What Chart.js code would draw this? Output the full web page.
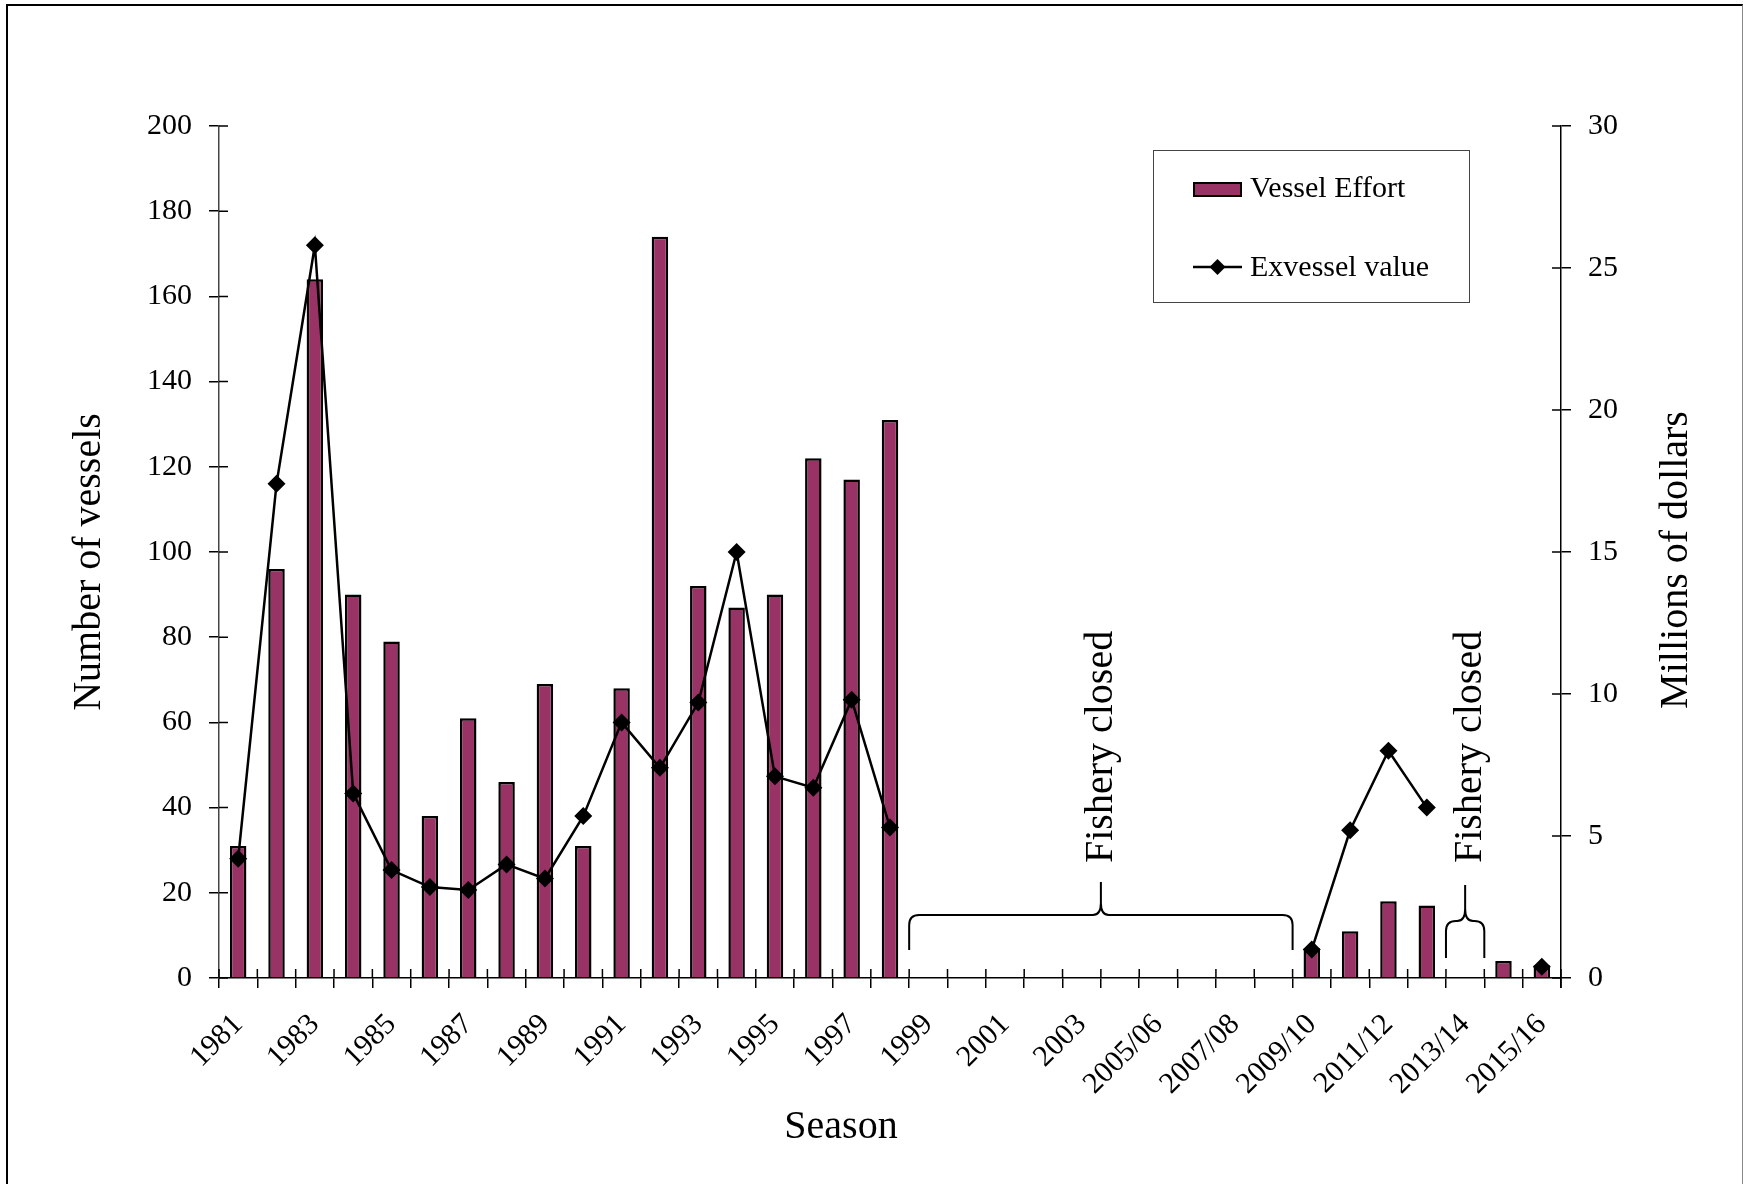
<!DOCTYPE html>
<html><head><meta charset="utf-8">
<script src="https://cdn.jsdelivr.net/npm/chart.js@4.4.0/dist/chart.umd.min.js"></script>
<style>
html,body{margin:0;padding:0;background:#fff;}
#wrap{position:relative;width:1743px;height:1184px;overflow:hidden;background:#fff;}
#frame{position:absolute;left:6px;top:4px;width:1737px;height:1200px;border-left:2px solid #000;border-top:2px solid #000;border-right:1px solid #888;box-sizing:border-box;}
canvas{position:absolute;left:0;top:0;}
</style></head><body>
<div id="wrap"><div id="frame"></div><canvas id="c" width="1743" height="1184"></canvas></div>
<script>
const seasons = ['1981','1982','1983','1984','1985','1986','1987','1988','1989','1990',
  '1991','1992','1993','1994','1995','1996','1997','1998','1999','2000','2001','2002','2003',
  '2004/05','2005/06','2006/07','2007/08','2008/09','2009/10','2010/11','2011/12','2012/13',
  '2013/14','2014/15','2015/16'];
const vesselEffort = [31,96,164,90,79,38,61,46,69,31,68,174,92,87,90,122,117,131,
  null,null,null,null,null,null,null,null,null,null,
  7,11,18,17,null,4,3];
const exvesselValue = [4.2,17.4,25.8,6.5,3.8,3.2,3.1,4.0,3.5,5.7,9.0,7.4,9.7,15.0,7.1,6.7,9.8,5.3,
  null,null,null,null,null,null,null,null,null,null,
  1.0,5.2,8.0,6.0,null,null,0.4];
const closedPeriods = [[18,27],[32,32]];
const closedLabel = 'Fishery closed';
const seriesNames = ['Vessel Effort','Exvessel value'];
const leftTitle = 'Number of vessels';
const rightTitle = 'Millions of dollars';
const xTitle = 'Season';

const FONT = '"Liberation Serif", "Times New Roman", serif';
const BAR = '#993366';

const extras = {
  id: 'extras',
  afterDraw(chart) {
    const ctx = chart.ctx;
    const xs = chart.scales.x, y = chart.scales.y, y1 = chart.scales.y1;
    const n = seasons.length;
    const cw = (xs.right - xs.left) / n;
    const bottom = y.bottom;
    ctx.save();
    ctx.strokeStyle = '#000';
    ctx.lineWidth = 1.5;
    // inner halves of ticks (crossing ticks)
    ctx.beginPath();
    for (let i = 0; i <= n; i++) {
      const px = xs.left + i * cw;
      ctx.moveTo(px, bottom - 9);
      ctx.lineTo(px, i === n ? bottom + 10 : bottom);
    }
    y.ticks.forEach(t => { const py = y.getPixelForValue(t.value); ctx.moveTo(y.right, py); ctx.lineTo(y.right + 9, py); });
    y1.ticks.forEach(t => { const py = y1.getPixelForValue(t.value); ctx.moveTo(y1.left - 9, py); ctx.lineTo(y1.left, py); });
    ctx.stroke();

    // braces + labels for closed periods
    const braceStyle = [
      {foot: 28, bar: 63, tip: 96, text: 1112},
      {foot: 20, bar: 57, tip: 93, text: 1481}
    ];
    closedPeriods.forEach((p, k) => {
      const st = braceStyle[k];
      const xl = xs.getPixelForValue(p[0]) - cw / 2;
      const xr = xs.getPixelForValue(p[1]) + cw / 2;
      const xc = (xl + xr) / 2;
      const yF = bottom - st.foot, yB = bottom - st.bar, yT = bottom - st.tip;
      const r = 10;
      ctx.beginPath();
      ctx.lineWidth = 2;
      ctx.moveTo(xl, yF);
      ctx.lineTo(xl, yB + r);
      ctx.quadraticCurveTo(xl, yB, xl + r, yB);
      ctx.lineTo(xc - 8, yB);
      ctx.quadraticCurveTo(xc, yB, xc, yB - 12);
      ctx.lineTo(xc, yT);
      ctx.moveTo(xc, yB - 12);
      ctx.quadraticCurveTo(xc, yB, xc + 8, yB);
      ctx.lineTo(xr - r, yB);
      ctx.quadraticCurveTo(xr, yB, xr, yB + r);
      ctx.lineTo(xr, yF);
      ctx.stroke();
      ctx.save();
      ctx.fillStyle = '#000';
      ctx.font = '40px ' + FONT;
      ctx.textAlign = 'left';
      ctx.textBaseline = 'alphabetic';
      ctx.translate(st.text, bottom - 115);
      ctx.rotate(-Math.PI / 2);
      ctx.fillText(closedLabel, 0, 0);
      ctx.restore();
    });

    // axis titles
    ctx.fillStyle = '#000';
    ctx.font = '40px ' + FONT;
    ctx.textAlign = 'center';
    ctx.textBaseline = 'middle';
    ctx.save(); ctx.translate(89, 562); ctx.rotate(-Math.PI / 2); ctx.fillText(leftTitle, 0, 0); ctx.restore();
    ctx.save(); ctx.translate(1676, 560); ctx.rotate(-Math.PI / 2); ctx.fillText(rightTitle, 0, 0); ctx.restore();
    ctx.fillText(xTitle, 841, 1127);

    // legend
    ctx.lineWidth = 1;
    ctx.strokeStyle = '#444';
    ctx.strokeRect(1153.5, 150.5, 316, 152);
    ctx.fillStyle = BAR;
    ctx.fillRect(1193, 182, 49, 15);
    ctx.strokeStyle = '#000';
    ctx.lineWidth = 2;
    ctx.strokeRect(1194, 183, 47, 13);
    ctx.beginPath();
    ctx.lineWidth = 2.5;
    ctx.moveTo(1193, 267); ctx.lineTo(1242, 267);
    ctx.stroke();
    ctx.fillStyle = '#000';
    ctx.beginPath();
    ctx.moveTo(1217.5, 259); ctx.lineTo(1225.5, 267); ctx.lineTo(1217.5, 275); ctx.lineTo(1209.5, 267); ctx.closePath();
    ctx.fill();
    ctx.font = '30px ' + FONT;
    ctx.textAlign = 'left';
    ctx.textBaseline = 'middle';
    ctx.fillText(seriesNames[0], 1250, 189);
    ctx.fillText(seriesNames[1], 1250, 268);
    ctx.restore();
  }
};

new Chart(document.getElementById('c'), {
  type: 'bar',
  data: {
    labels: seasons,
    datasets: [
      {
        type: 'line', label: seriesNames[1], data: exvesselValue, yAxisID: 'y1', order: 0,
        borderColor: '#000', backgroundColor: '#000', borderWidth: 2.5,
        pointStyle: 'rectRot', pointRadius: 9, pointBackgroundColor: '#000', pointBorderColor: '#000',
        pointBorderWidth: 0, spanGaps: false, tension: 0
      },
      {
        type: 'bar', label: seriesNames[0], data: vesselEffort, yAxisID: 'y', order: 1,
        backgroundColor: BAR, borderColor: '#000', borderWidth: 2.5,
        categoryPercentage: 1.0, barPercentage: 0.43
      }
    ]
  },
  options: {
    responsive: false,
    animation: false,
    devicePixelRatio: 1,
    layout: { padding: { top: 126, left: 0, right: 0, bottom: 0 } },
    plugins: { legend: { display: false }, tooltip: { enabled: false } },
    scales: {
      x: {
        position: 'bottom',
        offset: true,
        grid: { offset: true, drawOnChartArea: false, drawTicks: true, tickLength: 10, color: '#000', lineWidth: 1.5 },
        border: { display: true, color: '#000', width: 1.5 },
        ticks: {
          autoSkip: false, maxRotation: 45, minRotation: 45, padding: 19,
          color: '#000', font: { family: FONT, size: 30 },
          callback: function(v, i) { return i % 2 === 0 ? seasons[i] : ''; }
        },
        afterFit(s) { s.height = 206; }
      },
      y: {
        position: 'left', min: 0, max: 200,
        grid: { drawOnChartArea: false, tickLength: 10, color: '#000', lineWidth: 1.5 },
        border: { display: true, color: '#444', width: 1.5 },
        ticks: { stepSize: 20, padding: 17, color: '#000', font: { family: FONT, size: 30 } },
        afterFit(s) { s.width = 219; }
      },
      y1: {
        position: 'right', min: 0, max: 30,
        grid: { drawOnChartArea: false, tickLength: 10, color: '#000', lineWidth: 1.5 },
        border: { display: true, color: '#000', width: 1.5 },
        ticks: { stepSize: 5, padding: 17, color: '#000', font: { family: FONT, size: 30 } },
        afterFit(s) { s.width = 182; }
      }
    }
  },
  plugins: [extras]
});
</script>
</body></html>
